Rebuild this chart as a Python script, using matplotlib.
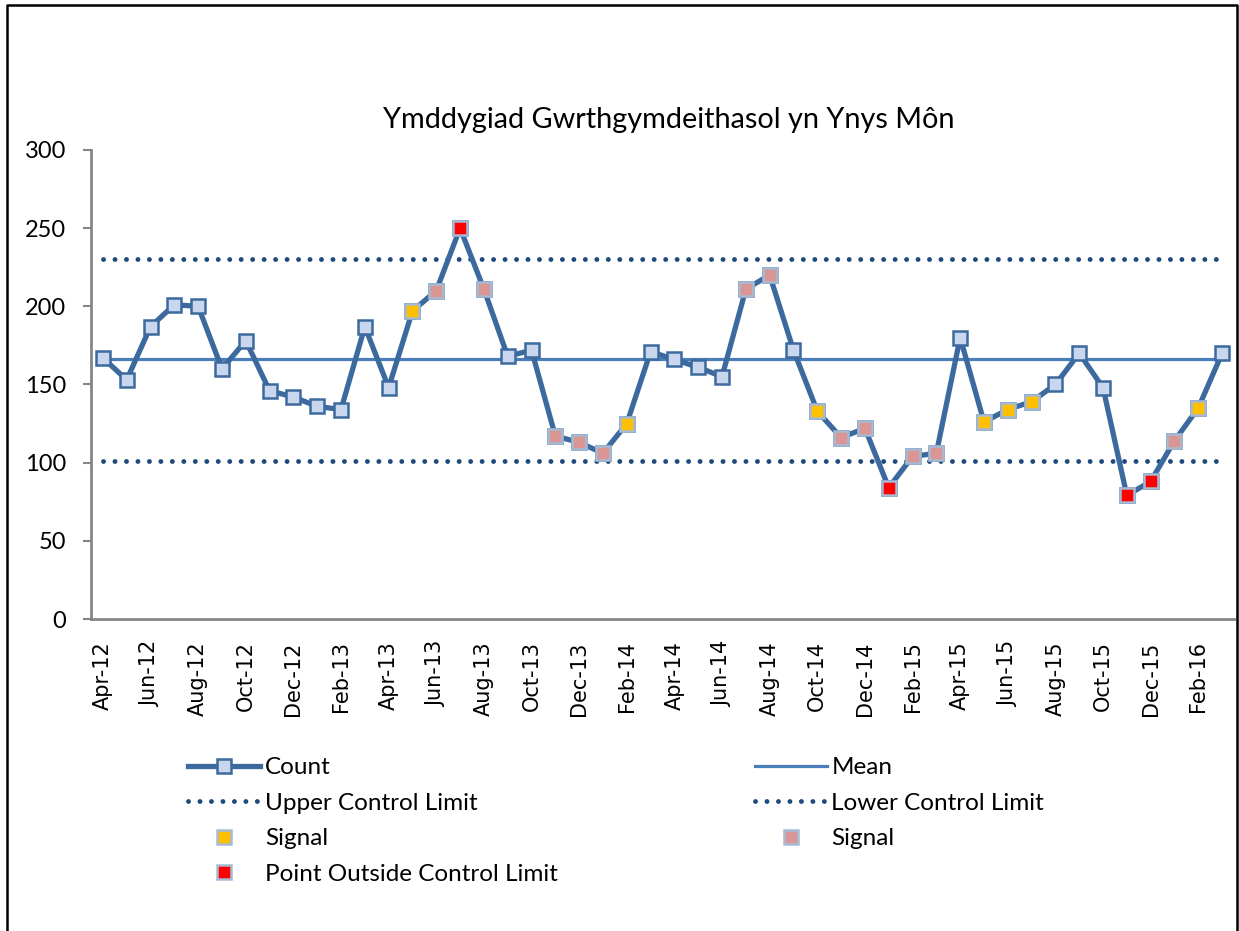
import numpy as np
import matplotlib
matplotlib.use("Agg")
import matplotlib.pyplot as plt
from matplotlib.lines import Line2D

months = ["Apr-12","May-12","Jun-12","Jul-12","Aug-12","Sep-12","Oct-12","Nov-12","Dec-12",
          "Jan-13","Feb-13","Mar-13","Apr-13","May-13","Jun-13","Jul-13","Aug-13","Sep-13",
          "Oct-13","Nov-13","Dec-13","Jan-14","Feb-14","Mar-14","Apr-14","May-14","Jun-14",
          "Jul-14","Aug-14","Sep-14","Oct-14","Nov-14","Dec-14","Jan-15","Feb-15","Mar-15",
          "Apr-15","May-15","Jun-15","Jul-15","Aug-15","Sep-15","Oct-15","Nov-15","Dec-15",
          "Jan-16","Feb-16","Mar-16"]
count = [167,153,187,201,200,160,178,146,142,136,134,187,148,197,210,250,211,168,
         172,117,113,106,125,171,166,161,155,211,220,172,133,116,122,84,104,106,
         180,126,134,139,150,170,148,79,88,114,135,170]
mean_val = 166
ucl = 230
lcl = 101
signal_yellow = ["May-13","Feb-14","Oct-14","May-15","Jun-15","Jul-15","Feb-16"]
signal_pink = ["Jun-13","Aug-13","Nov-13","Dec-13","Jan-14","Jul-14","Aug-14","Nov-14",
               "Dec-14","Feb-15","Mar-15","Jan-16"]
outside = ["Jul-13","Jan-15","Nov-15","Dec-15"]

title = "Ymddygiad Gwrthgymdeithasol yn Ynys Môn"

W, H = 1239, 931
fig = plt.figure(figsize=(W/100, H/100), dpi=100)
ax = fig.add_axes([91/W, 1-619/H, (1234-91)/W, (619-150)/H])

x = np.arange(len(months))
LINE = "#3C6A9E"
MEAN = "#4A7EBB"
DOT = "#1F4A7C"

def series(names):
    return [c if m in names else np.nan for m, c in zip(months, count)]

ax.plot(x, [mean_val]*len(x), color=MEAN, lw=2.3, zorder=2)
dotstyle = (0, (0.01, 2.35))
ax.plot(x, [ucl]*len(x), color=DOT, lw=3.5, ls=dotstyle, dash_capstyle="round", zorder=2)
ax.plot(x, [lcl]*len(x), color=DOT, lw=3.5, ls=dotstyle, dash_capstyle="round", zorder=2)
ax.plot(x, count, color=LINE, lw=3.8, marker="s", ms=10.5, mfc="#C8D7EE",
        mec=LINE, mew=1.8, zorder=3)
ax.plot(x, series(signal_yellow), ls="none", marker="s", ms=10, mfc="#FFC000",
        mec="#A7BAD4", mew=1.8, zorder=4)
ax.plot(x, series(signal_pink), ls="none", marker="s", ms=10, mfc="#D99694",
        mec="#A7BAD4", mew=1.8, zorder=4)
ax.plot(x, series(outside), ls="none", marker="s", ms=10, mfc="#FF0000",
        mec="#A7BAD4", mew=1.8, zorder=4)

ax.set_xlim(-0.5, len(x)-0.5)
ax.set_ylim(0, 300)
ax.set_yticks(range(0, 301, 50))
ax.set_xticks(x[::2])
ax.set_xticklabels(months[::2], rotation=90, family="DejaVu Sans", fontsize=15)
for lab in ax.get_yticklabels():
    lab.set_family("Lato")
    lab.set_fontsize(17)
ax.tick_params(axis="x", length=0, pad=16)
ax.tick_params(axis="y", length=6, width=1.5, color="#868686", pad=12)
for s in ["top", "right"]:
    ax.spines[s].set_visible(False)
for s in ["left", "bottom"]:
    ax.spines[s].set_color("#868686")
    ax.spines[s].set_linewidth(2)

fig.text(669/W, 1-120/H, title, ha="center", va="center", family="Lato", fontsize=20.8)

# frame
fig.add_artist(Line2D([7/W, 7/W, 1237/W, 1237/W], [0, 1-5/H, 1-5/H, 0],
                      transform=fig.transFigure, color="black", lw=1.8))

h_count = Line2D([], [], color=LINE, lw=3.8, marker="s", ms=10.5, mfc="#C8D7EE", mec=LINE, mew=1.8)
h_mean = Line2D([], [], color=MEAN, lw=2.3)
h_ucl = Line2D([], [], color=DOT, lw=3.5, ls=dotstyle, dash_capstyle="round")
h_lcl = Line2D([], [], color=DOT, lw=3.5, ls=dotstyle, dash_capstyle="round")
h_y = Line2D([], [], ls="none", marker="s", ms=10, mfc="#FFC000", mec="#A7BAD4", mew=1.8)
h_p = Line2D([], [], ls="none", marker="s", ms=10, mfc="#D99694", mec="#A7BAD4", mew=1.8)
h_r = Line2D([], [], ls="none", marker="s", ms=10, mfc="#FF0000", mec="#A7BAD4", mew=1.8)
handles = [h_count, h_ucl, h_y, h_r, h_mean, h_lcl, h_p]
labels = ["Count", "Upper Control Limit", "Signal", "Point Outside Control Limit",
          "Mean", "Lower Control Limit", "Signal"]
fig.legend(handles, labels, ncol=2, loc="upper left", bbox_to_anchor=(188/W, 1-757/H),
           frameon=False, prop={"family": "Lato", "size": 17.5}, handlelength=2.96,
           handletextpad=0.2, columnspacing=8.1, labelspacing=0.6, borderpad=0,
           borderaxespad=0)

fig.savefig("out.png", dpi=100, facecolor="white")
